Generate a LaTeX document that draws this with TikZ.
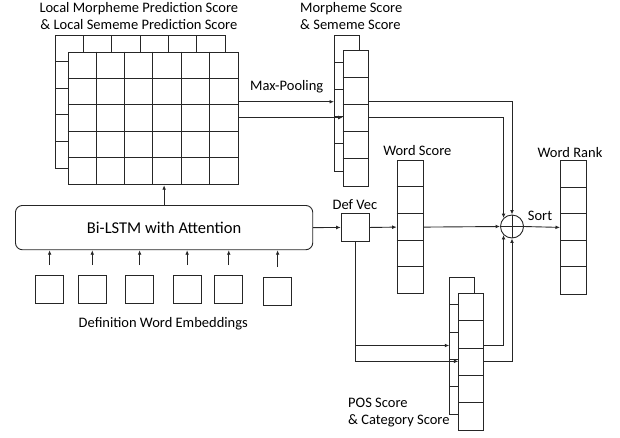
\documentclass[tikz,border=0pt]{standalone}
\usepackage{fontspec}
\setmainfont{Carlito}
\usetikzlibrary{arrows.meta,calc}
\begin{document}
\begin{tikzpicture}[x=1pt,y=-1pt,
  every node/.style={font=\fontsize{14.5}{17}\selectfont},
  ln/.style={draw=black!85,line width=0.9pt},
  arr/.style={ln,-{Latex[length=4.5pt,width=3.8pt]}},
  cellbox/.style={ln,fill=white,inner sep=0pt,anchor=north west},
  lbl/.style={inner sep=0pt,align=center},
  lbll/.style={inner sep=0pt,align=left,anchor=west}]
\useasboundingbox (0,0) rectangle (620,437);
% ---------- local score grid (back + front)
\node[cellbox,minimum width=170pt,minimum height=132.6pt] (lgb) at (55,35) {};
\foreach \i in {1,...,5} \draw[ln] ($(lgb.north west)+(\i*28.33,0)$) -- ++(0,132.6);
\foreach \j in {1,...,4} \draw[ln] ($(lgb.north west)+(0,\j*26.52)$) -- ++(170,0);
\node[cellbox,minimum width=170pt,minimum height=132.6pt] (lg) at (67.7,51.7) {};
\foreach \i in {1,...,5} \draw[ln] ($(lg.north west)+(\i*28.33,0)$) -- ++(0,132.6);
\foreach \j in {1,...,4} \draw[ln] ($(lg.north west)+(0,\j*26.52)$) -- ++(170,0);
% ---------- morpheme score column
\node[cellbox,minimum width=25pt,minimum height=135.7pt] (msb) at (334,35) {};
\foreach \j in {1,...,4} \draw[ln] ($(msb.north west)+(0,\j*27.14)$) -- ++(25,0);
\node[cellbox,minimum width=25pt,minimum height=135.7pt] (msf) at (342.7,50) {};
\foreach \j in {1,...,4} \draw[ln] ($(msf.north west)+(0,\j*27.14)$) -- ++(25,0);
% ---------- POS column
\node[cellbox,minimum width=25pt,minimum height=136.7pt] (posb) at (449.3,277.3) {};
\foreach \j in {1,...,4} \draw[ln] ($(posb.north west)+(0,\j*27.34)$) -- ++(25,0);
\node[cellbox,minimum width=25pt,minimum height=136.7pt] (posf) at (458.3,293.3) {};
\foreach \j in {1,...,4} \draw[ln] ($(posf.north west)+(0,\j*27.34)$) -- ++(25,0);
% ---------- word score / word rank
\node[cellbox,minimum width=25.8pt,minimum height=133.3pt] (ws) at (396.7,160) {};
\foreach \j in {1,...,4} \draw[ln] ($(ws.north west)+(0,\j*26.66)$) -- ++(25.8,0);
\node[cellbox,minimum width=25.8pt,minimum height=133.3pt] (wr) at (560,160.3) {};
\foreach \j in {1,...,4} \draw[ln] ($(wr.north west)+(0,\j*26.66)$) -- ++(25.8,0);
% ---------- LSTM, def vec, sum
\node[ln,rounded corners=7pt,minimum width=297.3pt,minimum height=44.3pt,inner sep=0pt,anchor=north west] (lstm) at (15,205) {};
\node[lbl,font=\fontsize{16.5}{18}\selectfont] at (lstm.center) {Bi-LSTM with Attention};
\node[cellbox,minimum width=28.6pt,minimum height=27.4pt] (dv) at (340.7,213.3) {};
\node[ln,circle,minimum size=23pt,inner sep=0pt] (sum) at (512,226.5) {};
\draw[ln] (sum.north) -- (sum.south) (sum.west) -- (sum.east);
% ---------- embeddings
\node[cellbox,minimum width=28.3pt,minimum height=27.7pt] (e1) at (35,275) {};
\node[cellbox,minimum width=28.3pt,minimum height=27.7pt] (e2) at (77.7,275) {};
\node[cellbox,minimum width=28.3pt,minimum height=27.7pt] (e3) at (125,275) {};
\node[cellbox,minimum width=28pt,minimum height=27.7pt] (e4) at (172.7,275) {};
\node[cellbox,minimum width=28pt,minimum height=27.7pt] (e5) at (214.3,275) {};
\node[cellbox,minimum width=27.7pt,minimum height=27.7pt] (e6) at (263.3,277) {};
\foreach \e in {e1,e2,e3,e4,e5,e6}
  \draw[arr] ([yshift=10pt]\e.north) -- (\e.north |- lstm.south);
% ---------- connectors
\coordinate (p1) at (0,101.7);
\coordinate (p2) at (0,117.5);
\coordinate (p3) at (0,345.5);
\coordinate (p4) at (0,361.3);
\draw[arr] (lstm.north) -- (lstm.north |- lg.south);
\draw[arr] (lg.east |- p1) -- (msb.west |- p1);
\draw[arr] (lg.east |- p2) -- (msf.west |- p2);
\draw[arr] (msf.east |- p1) -| (sum.north);
\draw[arr] (msf.east |- p2) -| (sum.135);
\draw[arr] (lstm.east) -- (dv.west);
\draw[arr] (dv.east) -- (ws.west);
\draw[arr] (ws.east) -- (sum.west);
\draw[arr] (sum.east) -- (wr.west);
\draw[arr] (dv.south) |- (posb.west |- p3);
\draw[arr] (dv.south) |- (posf.west |- p4);
\draw[arr] (posf.east |- p3) -| (sum.225);
\draw[arr] (posf.east |- p4) -| (sum.south);
% ---------- labels
\node[lbl] (t1) at (138.8,16) {Local Morpheme Prediction Score\\\& Local Sememe Prediction Score};
\node[lbll] (t2) at (300,16) {Morpheme Score\\\& Sememe Score};
\node[lbl] (t3) at (286.7,87) {Max-Pooling};
\node[lbl] (t4) at (417.3,150.7) {Word Score};
\node[lbl] (t5) at (570,152.3) {Word Rank};
\node[lbl] (t6) at (355,205) {Def Vec};
\node[lbl] (t7) at (540,216) {Sort};
\node[lbll] (t8) at (348,413) {POS Score\\\& Category Score};
\node[lbl] (t9) at (163.3,323.3) {Definition Word Embeddings};
\end{tikzpicture}
\end{document}
